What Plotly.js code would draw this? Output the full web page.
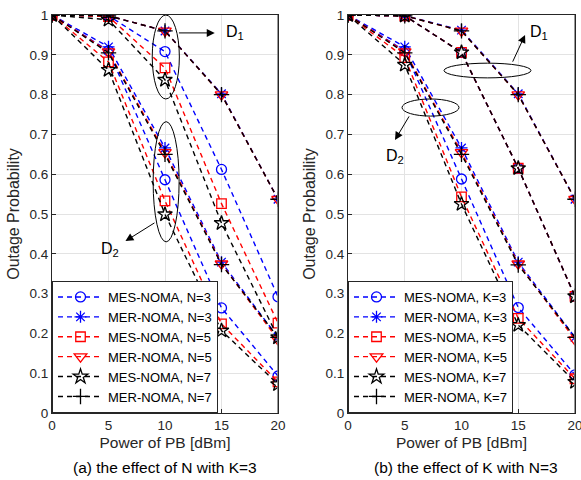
<!DOCTYPE html>
<html>
<head>
<meta charset="utf-8">
<script src="https://cdn.plot.ly/plotly-3.0.1.min.js"></script>
<style>html,body{margin:0;padding:0;background:#fff;}#chart{width:581px;height:480px;}</style>
</head>
<body>
<div id="chart"></div>
<script>
// x values: Power of PB [dBm]
const powerDbm = [0, 5, 10, 15, 20];
const xTicks = [0, 5, 10, 15, 20];
const yTicks = [0, 0.1, 0.2, 0.3, 0.4, 0.5, 0.6, 0.7, 0.8, 0.9, 1];
const yTickText = ['0', '0.1', '0.2', '0.3', '0.4', '0.5', '0.6', '0.7', '0.8', '0.9', '1'];

// Panel (a): effect of N with K=3 (D1 = upper group, D2 = lower group)
const namesA = ['MES-NOMA, N=3', 'MER-NOMA, N=3', 'MES-NOMA, N=5', 'MER-NOMA, N=5', 'MES-NOMA, N=7', 'MER-NOMA, N=7'];
const a_MES_N3_D1 = [1.0, 0.998, 0.908, 0.612, 0.292];
const a_MES_N3_D2 = [1.0, 0.910, 0.586, 0.264, 0.093];
const a_MER_N3_D1 = [1.0, 0.998, 0.960, 0.802, 0.537];
const a_MER_N3_D2 = [1.0, 0.920, 0.666, 0.379, 0.190];
const a_MES_N5_D1 = [1.0, 0.996, 0.867, 0.526, 0.226];
const a_MES_N5_D2 = [1.0, 0.882, 0.533, 0.224, 0.078];
const a_MER_N5_D1 = [1.0, 0.998, 0.960, 0.800, 0.537];
const a_MER_N5_D2 = [1.0, 0.908, 0.655, 0.375, 0.184];
const a_MES_N7_D1 = [1.0, 0.988, 0.837, 0.477, 0.190];
const a_MES_N7_D2 = [1.0, 0.862, 0.499, 0.207, 0.072];
const a_MER_N7_D1 = [1.0, 0.998, 0.960, 0.800, 0.537];
const a_MER_N7_D2 = [1.0, 0.905, 0.650, 0.373, 0.190];

// Panel (b): effect of K with N=3
const namesB = ['MES-NOMA, K=3', 'MER-NOMA, K=3', 'MES-NOMA, K=5', 'MER-NOMA, K=5', 'MES-NOMA, K=7', 'MER-NOMA, K=7'];
const b_MES_K3_D1 = [1.0, 0.998, 0.906, 0.615, 0.293];
const b_MES_K3_D2 = [1.0, 0.910, 0.588, 0.265, 0.096];
const b_MER_K3_D1 = [1.0, 0.998, 0.962, 0.802, 0.537];
const b_MER_K3_D2 = [1.0, 0.920, 0.666, 0.379, 0.190];
const b_MES_K5_D1 = [1.0, 0.998, 0.906, 0.615, 0.293];
const b_MES_K5_D2 = [1.0, 0.893, 0.543, 0.238, 0.086];
const b_MER_K5_D1 = [1.0, 0.998, 0.960, 0.800, 0.537];
const b_MER_K5_D2 = [1.0, 0.908, 0.655, 0.375, 0.184];
const b_MES_K7_D1 = [1.0, 0.998, 0.906, 0.615, 0.293];
const b_MES_K7_D2 = [1.0, 0.875, 0.525, 0.221, 0.078];
const b_MER_K7_D1 = [1.0, 0.998, 0.960, 0.800, 0.537];
const b_MER_K7_D2 = [1.0, 0.905, 0.650, 0.372, 0.190];

const colors = ['#0000ff', '#0000ff', '#ff0000', '#ff0000', '#000000', '#000000'];
const symbols = ['circle-open', 'asterisk-open', 'square-open', 'triangle-down-open', 'star-open', 'cross-thin-open'];
const sizes = [10, 10, 9.5, 11, 11, 11];

const seriesA = [[a_MES_N3_D1, a_MES_N3_D2], [a_MER_N3_D1, a_MER_N3_D2], [a_MES_N5_D1, a_MES_N5_D2],
                 [a_MER_N5_D1, a_MER_N5_D2], [a_MES_N7_D1, a_MES_N7_D2], [a_MER_N7_D1, a_MER_N7_D2]];
const seriesB = [[b_MES_K3_D1, b_MES_K3_D2], [b_MER_K3_D1, b_MER_K3_D2], [b_MES_K5_D1, b_MES_K5_D2],
                 [b_MER_K5_D1, b_MER_K5_D2], [b_MES_K7_D1, b_MES_K7_D2], [b_MER_K7_D1, b_MER_K7_D2]];

const traces = [];
function addPanel(series, names, xa, ya, legendId, prefix) {
  series.forEach((pair, i) => {
    pair.forEach((vals, j) => {
      traces.push({
        type: 'scatter', mode: 'lines+markers',
        x: powerDbm, y: vals,
        xaxis: xa, yaxis: ya,
        name: names[i], legend: legendId,
        legendgroup: prefix + i, showlegend: j === 0,
        line: {color: colors[i], width: 1.4, dash: '5px,4px'},
        marker: {symbol: symbols[i], size: sizes[i], color: colors[i], line: {color: colors[i], width: 1.3}},
        hoverinfo: 'skip'
      });
    });
  });
}
addPanel(seriesA, namesA, 'x', 'y', 'legend', 'a');
addPanel(seriesB, namesB, 'x2', 'y2', 'legend2', 'b');

const FONT = 'Liberation Sans, Arial, sans-serif';
const axisCommon = {
  range: [0, 20], tickvals: xTicks, ticktext: xTicks.map(String),
  showgrid: true, gridcolor: '#e3e3e3', gridwidth: 1,
  showline: true, linecolor: '#262626', linewidth: 1, mirror: true,
  ticks: 'inside', ticklen: 4, tickcolor: '#262626',
  tickfont: {family: FONT, size: 13.5, color: '#262626'},
  ticklabeloverflow: 'allow',
  zeroline: false, fixedrange: true
};
const yCommon = {
  range: [0, 1], tickvals: yTicks, ticktext: yTickText,
  showgrid: true, gridcolor: '#e3e3e3', gridwidth: 1,
  showline: true, linecolor: '#262626', linewidth: 1, mirror: true,
  ticks: 'inside', ticklen: 4, tickcolor: '#262626',
  tickfont: {family: FONT, size: 13.5, color: '#262626'},
  ticklabeloverflow: 'allow',
  zeroline: false, fixedrange: true
};
const xTitle = {text: 'Power of PB [dBm]', font: {family: FONT, size: 15.5, color: '#262626'}, standoff: 4};
const yTitle = {text: 'Outage Probability', font: {family: FONT, size: 16, color: '#262626'}, standoff: 5};

const legendCommon = {
  xanchor: 'left', yanchor: 'bottom',
  bgcolor: '#ffffff', bordercolor: '#262626', borderwidth: 1,
  font: {family: FONT, size: 13, color: '#000000'},
  itemwidth: 45, tracegroupgap: 0, itemclick: false, itemdoubleclick: false
};

const arrowFont = {family: FONT, size: 16, color: '#000000'};
const layout = {
  width: 581, height: 480,
  margin: {l: 0, r: 0, t: 0, b: 0},
  paper_bgcolor: '#ffffff', plot_bgcolor: '#ffffff',
  showlegend: true,
  xaxis: Object.assign({}, axisCommon, {domain: [52/581, 278/581], anchor: 'y', title: xTitle}),
  yaxis: Object.assign({}, yCommon, {domain: [67/480, 465/480], anchor: 'x', title: yTitle}),
  xaxis2: Object.assign({}, axisCommon, {domain: [348/581, 575/581], anchor: 'y2', title: xTitle}),
  yaxis2: Object.assign({}, yCommon, {domain: [67/480, 465/480], anchor: 'x2', title: yTitle}),
  legend: Object.assign({}, legendCommon, {x: 52/581, y: 67/480}),
  legend2: Object.assign({}, legendCommon, {x: 348/581, y: 67/480}),
  shapes: [
    {type: 'circle', xref: 'x', yref: 'y', x0: 8.87, x1: 11.27, y0: 0.789, y1: 1.0, line: {color: '#000', width: 1}},
    {type: 'circle', xref: 'x', yref: 'y', x0: 8.95, x1: 11.25, y0: 0.430, y1: 0.732, line: {color: '#000', width: 1}},
    {type: 'circle', xref: 'x2', yref: 'y2', x0: 8.46, x1: 16.12, y0: 0.842, y1: 0.879, line: {color: '#000', width: 1}},
    {type: 'circle', xref: 'x2', yref: 'y2', x0: 4.76, x1: 9.78, y0: 0.746, y1: 0.789, line: {color: '#000', width: 1}},
    {type: 'line', xref: 'x', yref: 'y', x0: 20, x1: 20, y0: 0, y1: 1, line: {color: '#808080', width: 1.6}},
    {type: 'line', xref: 'x2', yref: 'y2', x0: 20, x1: 20, y0: 0, y1: 1, line: {color: '#808080', width: 1.6}}
  ],
  annotations: [
    {xref: 'x', yref: 'y', axref: 'x', ayref: 'y', x: 14.4, y: 0.955, ax: 11.1, ay: 0.955, text: '', showarrow: true, arrowhead: 2, arrowsize: 1.6, arrowwidth: 1, arrowcolor: '#000'},
    {xref: 'x', yref: 'y', x: 15.2, y: 0.955, text: 'D<sub>1</sub>', showarrow: false, xanchor: 'left', font: arrowFont},
    {xref: 'x', yref: 'y', axref: 'x', ayref: 'y', x: 6.5, y: 0.432, ax: 9.2, ay: 0.48, text: '', showarrow: true, arrowhead: 2, arrowsize: 1.6, arrowwidth: 1, arrowcolor: '#000'},
    {xref: 'x', yref: 'y', x: 5.15, y: 0.41, text: 'D<sub>2</sub>', showarrow: false, xanchor: 'center', font: arrowFont},
    {xref: 'x2', yref: 'y2', axref: 'x2', ayref: 'y2', x: 15.6, y: 0.95, ax: 14.45, ay: 0.879, text: '', showarrow: true, arrowhead: 2, arrowsize: 1.6, arrowwidth: 1, arrowcolor: '#000'},
    {xref: 'x2', yref: 'y2', x: 15.9, y: 0.955, text: 'D<sub>1</sub>', showarrow: false, xanchor: 'left', font: arrowFont},
    {xref: 'x2', yref: 'y2', axref: 'x2', ayref: 'y2', x: 4.14, y: 0.686, ax: 5.46, ay: 0.749, text: '', showarrow: true, arrowhead: 2, arrowsize: 1.6, arrowwidth: 1, arrowcolor: '#000'},
    {xref: 'x2', yref: 'y2', x: 4.1, y: 0.645, text: 'D<sub>2</sub>', showarrow: false, xanchor: 'center', font: arrowFont},
    {xref: 'paper', yref: 'paper', x: 165/581, y: 13/480, text: '(a) the effect of N with K=3', showarrow: false, xanchor: 'center', yanchor: 'middle', font: {family: FONT, size: 15.5, color: '#000'}},
    {xref: 'paper', yref: 'paper', x: 466/581, y: 13/480, text: '(b) the effect of K with N=3', showarrow: false, xanchor: 'center', yanchor: 'middle', font: {family: FONT, size: 15.5, color: '#000'}}
  ]
};

Plotly.newPlot('chart', traces, layout, {displayModeBar: false, staticPlot: true});
</script>
</body>
</html>
